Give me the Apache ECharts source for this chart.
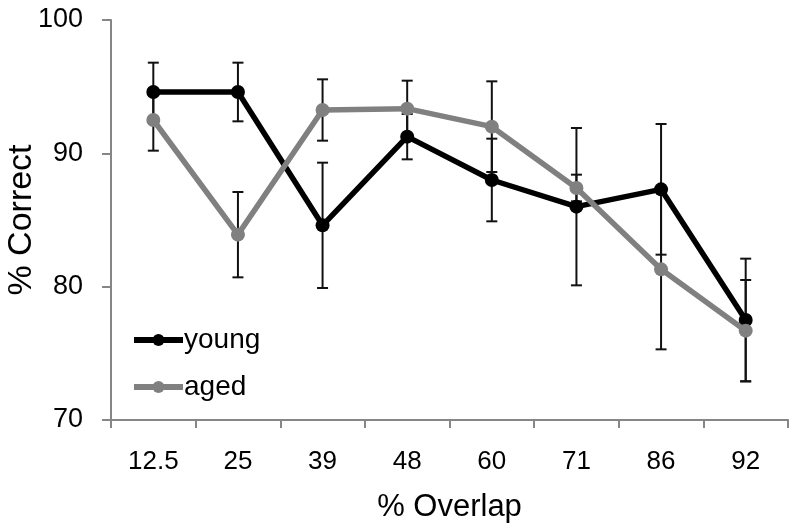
<!DOCTYPE html>
<html>
<head>
<meta charset="utf-8">
<script src="https://cdn.jsdelivr.net/npm/echarts@6/dist/echarts.min.js"></script>
<style>html,body{margin:0;padding:0;background:#fff}#c{width:800px;height:532px}</style>
</head>
<body>
<div id="c"></div>
<script>
const categories = ['12.5', '25', '39', '48', '60', '71', '86', '92'];
const young = [94.6, 94.6, 84.6, 91.25, 88.0, 86.0, 87.3, 77.5];
const youngErr = [2.2, 2.2, 4.7, 1.7, 3.1, 5.9, 4.9, 4.6];
const aged = [92.5, 83.9, 93.25, 93.35, 92.0, 87.4, 81.3, 76.7];
const agedErr = [2.3, 3.2, 2.3, 2.1, 3.4, 1.0, 6.0, 3.8];
const yTicks = [70, 80, 90, 100];

const FONT = '"Liberation Sans", Arial, sans-serif';
const chart = echarts.init(document.getElementById('c'), null, {renderer: 'canvas'});

function errData(vals, errs) {
  return vals.map((v, i) => [i, v - errs[i], v + errs[i]]);
}
function errRender(params, api) {
  const x = api.value(0);
  const lo = api.coord([x, api.value(1)]);
  const hi = api.coord([x, api.value(2)]);
  const hw = 5.5;
  const st = {stroke: '#111', lineWidth: 2};
  return {
    type: 'group',
    children: [
      {type: 'line', shape: {x1: hi[0], y1: hi[1], x2: lo[0], y2: lo[1]}, style: st},
      {type: 'line', shape: {x1: hi[0] - hw, y1: hi[1], x2: hi[0] + hw, y2: hi[1]}, style: st},
      {type: 'line', shape: {x1: lo[0] - hw, y1: lo[1], x2: lo[0] + hw, y2: lo[1]}, style: st}
    ]
  };
}

chart.setOption({
  animation: false,
  backgroundColor: '#fff',
  grid: {left: 111, right: 12, top: 20, bottom: 112, containLabel: false, outerBoundsMode: 'none'},
  legend: {
    orient: 'vertical',
    left: 131,
    top: 326,
    padding: 0,
    itemWidth: 49,
    itemHeight: 15,
    itemGap: 19,
    data: [
      {name: 'young', itemStyle: {color: '#000'}, lineStyle: {color: '#000', width: 6}},
      {name: 'aged', itemStyle: {color: '#808080'}, lineStyle: {color: '#808080', width: 6}}
    ],
    textStyle: {fontFamily: FONT, fontSize: 28, color: '#000', padding: [0, 0, 0, -4]}
  },
  xAxis: {
    type: 'category',
    data: categories,
    boundaryGap: true,
    name: '% Overlap',
    nameLocation: 'middle',
    nameGap: 72,
    nameMoveOverlap: false,
    nameTextStyle: {fontFamily: FONT, fontSize: 31, color: '#000'},
    axisLine: {lineStyle: {color: '#868686', width: 2}},
    axisTick: {show: true, inside: false, length: 8, alignWithLabel: false, lineStyle: {color: '#868686', width: 2}},
    axisLabel: {fontFamily: FONT, fontSize: 26, color: '#000', margin: 29, interval: 0},
    splitLine: {show: false}
  },
  yAxis: {
    type: 'value',
    min: yTicks[0],
    max: yTicks[yTicks.length - 1],
    interval: 10,
    name: '% Correct',
    nameLocation: 'middle',
    nameGap: 72,
    nameMoveOverlap: false,
    nameTextStyle: {fontFamily: FONT, fontSize: 34, color: '#000'},
    axisLine: {show: true, lineStyle: {color: '#868686', width: 2}},
    axisTick: {show: true, inside: false, length: 9, lineStyle: {color: '#868686', width: 2}},
    axisLabel: {fontFamily: FONT, fontSize: 27, color: '#000', margin: 28},
    splitLine: {show: false}
  },
  series: [
    {
      type: 'custom', name: 'youngErr', renderItem: errRender,
      data: errData(young, youngErr), z: 1, silent: true,
      encode: {x: 0, y: [1, 2]}
    },
    {
      type: 'custom', name: 'agedErr', renderItem: errRender,
      data: errData(aged, agedErr), z: 1, silent: true,
      encode: {x: 0, y: [1, 2]}
    },
    {
      type: 'line', name: 'young', data: young, z: 3,
      symbol: 'circle', symbolSize: 14,
      lineStyle: {color: '#000', width: 5.5},
      itemStyle: {color: '#000'}
    },
    {
      type: 'line', name: 'aged', data: aged, z: 4,
      symbol: 'circle', symbolSize: 14,
      lineStyle: {color: '#808080', width: 5.5},
      itemStyle: {color: '#808080'}
    }
  ]
});
</script>
</body>
</html>
